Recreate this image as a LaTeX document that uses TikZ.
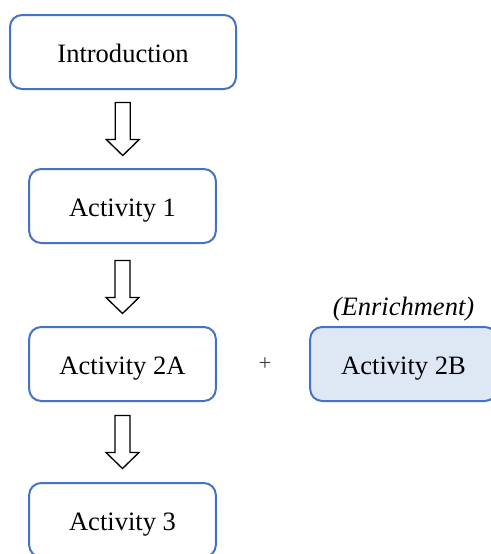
\documentclass[tikz,border=0pt]{standalone}
\usepackage{fontspec}
\setmainfont{Liberation Serif}
\usetikzlibrary{calc}
\definecolor{boxblue}{HTML}{4472C4}
\definecolor{boxfill}{HTML}{DEE8F5}
\tikzset{
  stagebox/.style={draw=boxblue, line width=1.5pt, rounded corners=9pt, fill=white,
    minimum width=140pt, minimum height=55.5pt, inner sep=0pt,
    text height=16.4pt, text depth=0pt,
    font=\fontsize{19.9}{24}\selectfont, align=center},
  blockarrow/.pic={
    \draw[line width=1pt, fill=white, line join=miter]
      (-7.5,-26.5) -- (7.5,-26.5) -- (7.5,10.5) -- (16.5,10.5) -- (0,26.5)
      -- (-16.5,10.5) -- (-7.5,10.5) -- cycle;
  }
}
\begin{document}
\begin{tikzpicture}[x=0.75pt, y=-0.75pt]
\clip (0,0) rectangle (491,554);
\fill[white] (0,0) rectangle (491,554);
\node[stagebox, minimum width=169.5pt] (intro) at (123,52) {Introduction};
\node[stagebox] (a1) at (122.5,206) {Activity 1};
\node[stagebox] (a2a) at (122.5,364) {Activity 2A};
\node[stagebox, fill=boxfill] (a2b) at (403.5,364) {Activity 2B};
\node[stagebox] (a3) at (122.5,520) {Activity 3};
\node[font=\fontsize{19.9}{24}\selectfont\itshape, anchor=base] (enr) at (403.5,315) {(Enrichment)};
\node[font=\fontsize{17}{20}\selectfont, text=black!75] (plus) at (265,364) {+};
\pic at ($(intro.south)!0.5!(a1.north)$) {blockarrow};
\pic at ($(a1.south)!0.5!(a2a.north)+(0,2)$) {blockarrow};
\pic at ($(a2a.south)!0.5!(a3.north)$) {blockarrow};
\end{tikzpicture}
\end{document}
